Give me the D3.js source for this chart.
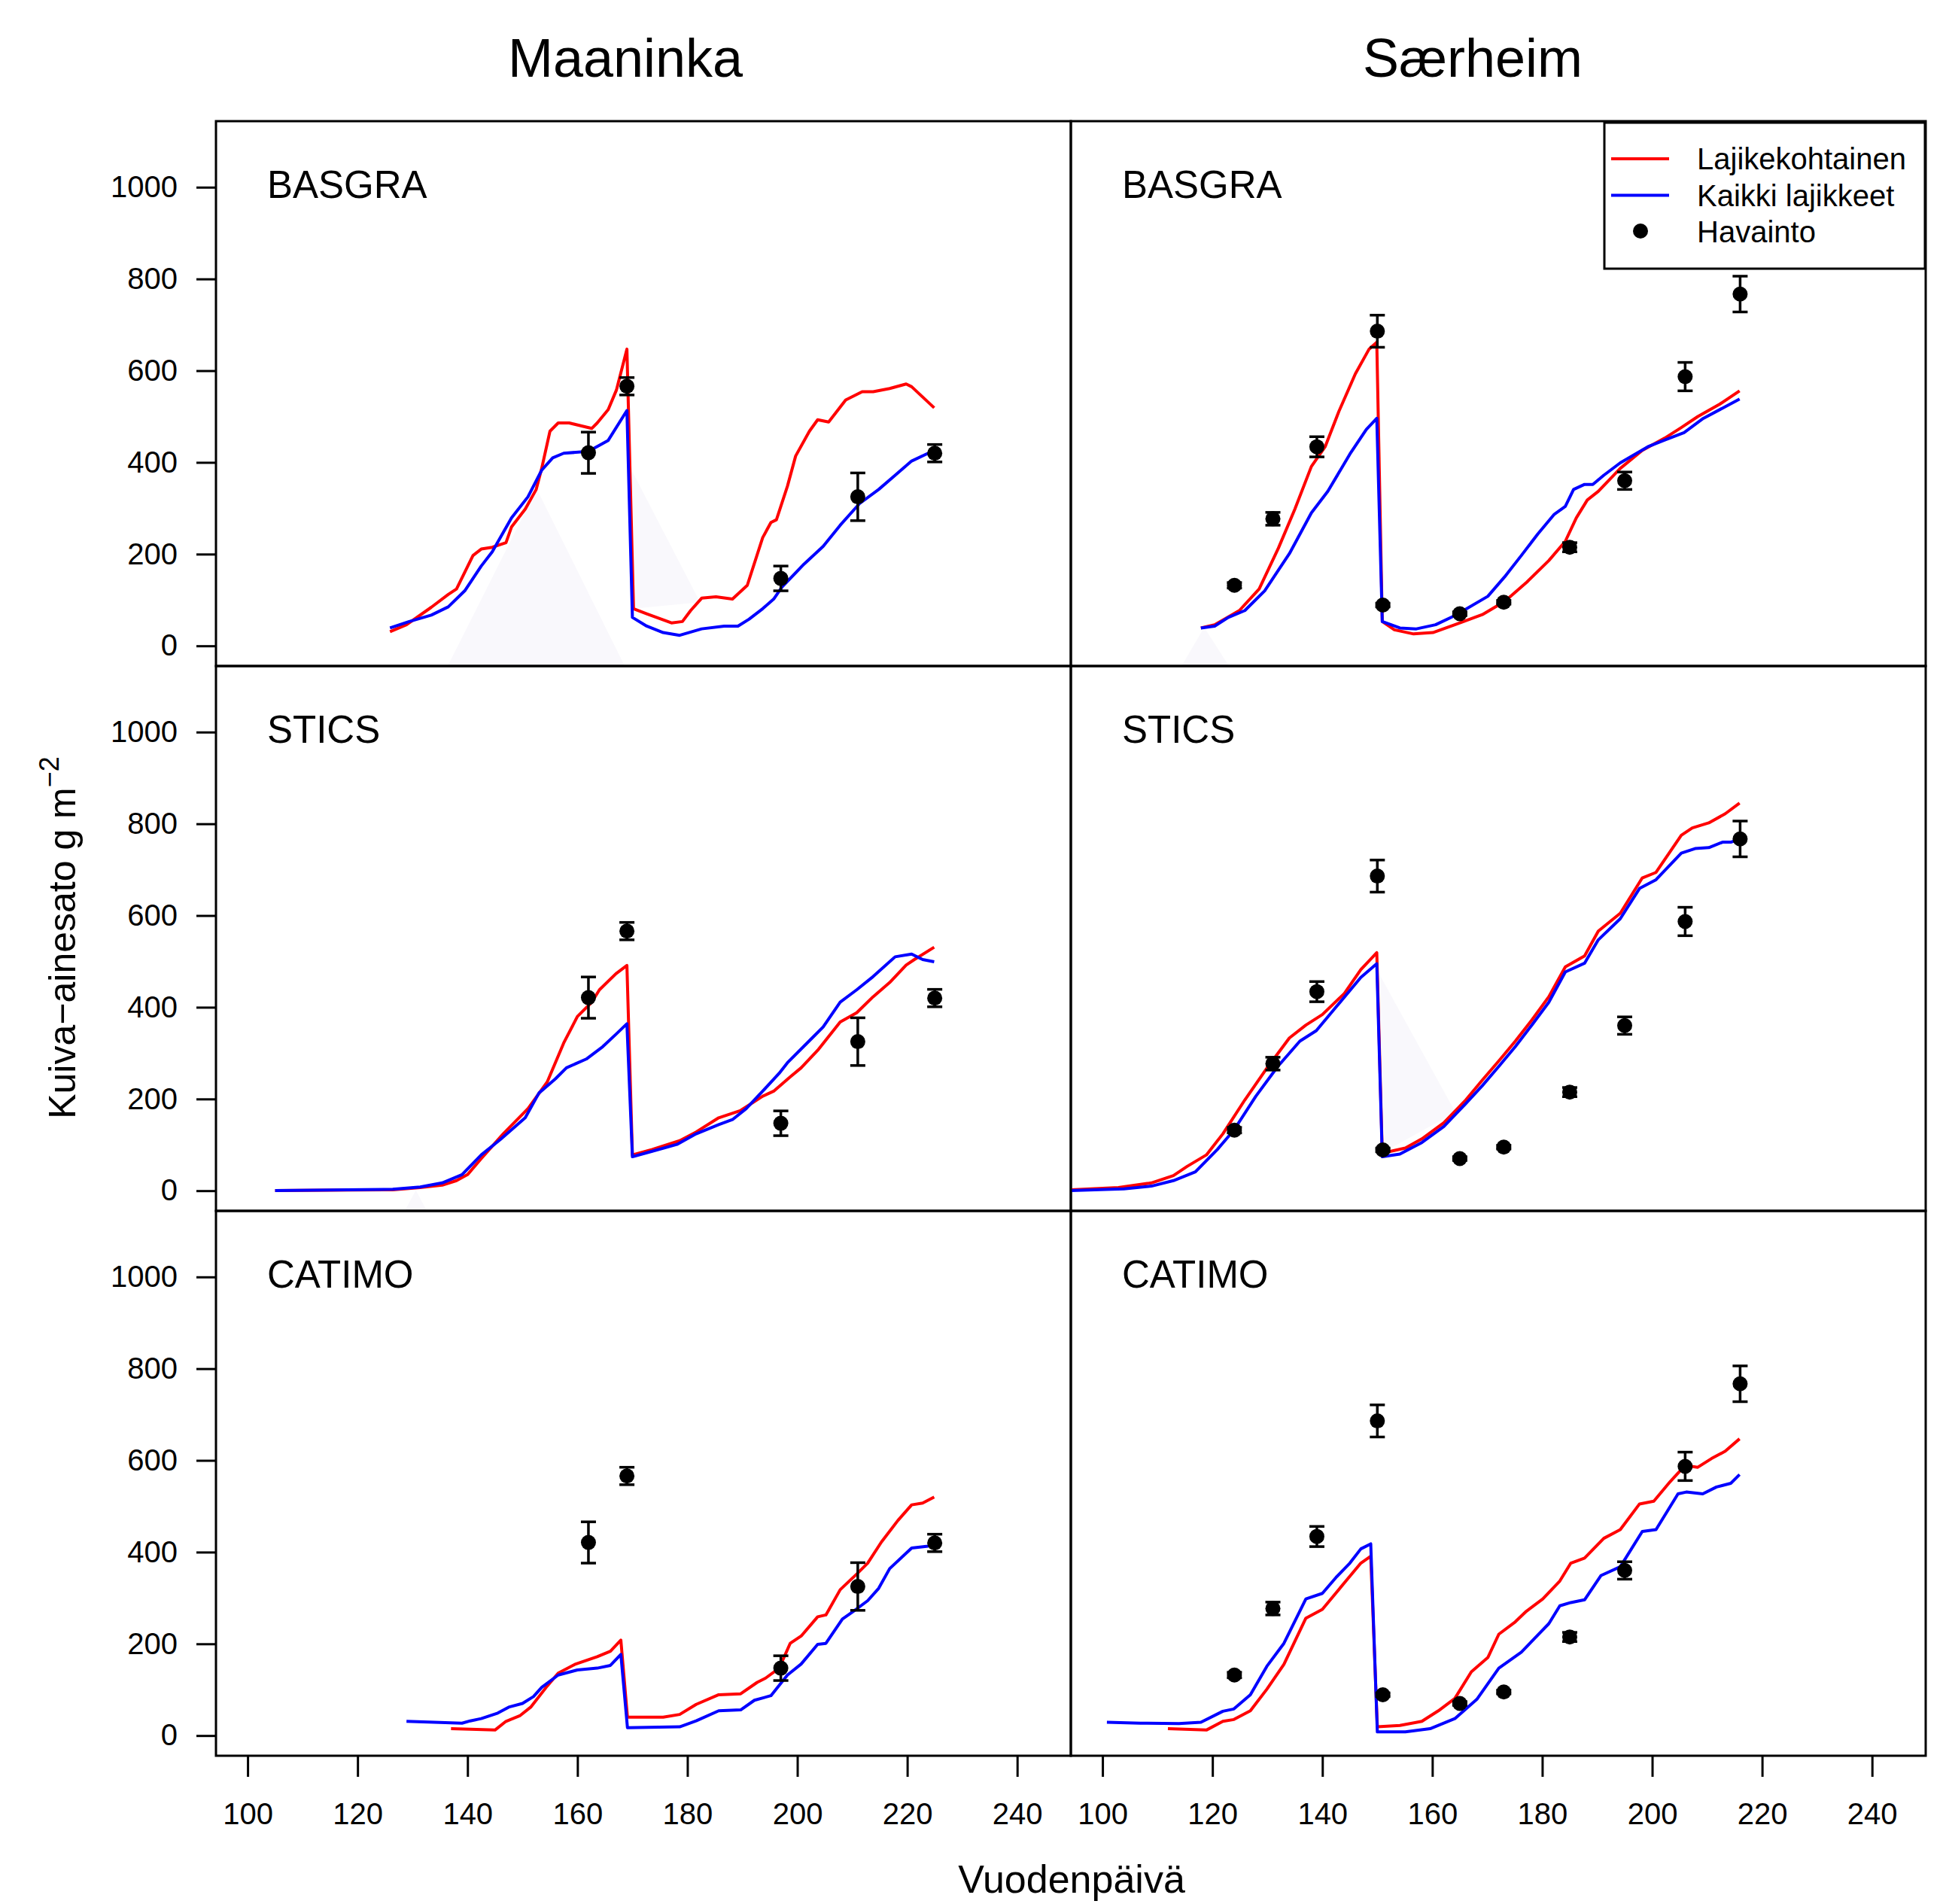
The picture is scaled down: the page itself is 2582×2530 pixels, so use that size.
<!DOCTYPE html>
<html>
<head>
<meta charset="utf-8">
<script src="https://cdn.jsdelivr.net/npm/d3@7"></script>
<style>
  body { margin: 0; background: #fff; }
  text { font-family: "Liberation Sans", Arial, Helvetica, sans-serif; fill: #000; }
</style>
</head>
<body>
<script>
// sites, models, ticks
const sites = ['Maaninka', 'Særheim'];
const models = ['BASGRA', 'STICS', 'CATIMO'];
const xTicks = [100, 120, 140, 160, 180, 200, 220, 240];
const yTicks = [0, 200, 400, 600, 800, 1000];

// observations (day, mean, error half width)
const maaObsDay = [162, 169, 197, 211, 225];
const maaObsVal = [421, 566, 147, 325, 420];
const maaObsErr = [45, 19, 27, 52, 19];
const saeObsDay = [124, 131, 139, 150, 151, 165, 173, 185, 195, 206, 216];
const saeObsVal = [132, 277, 434, 686, 89, 70, 95, 215, 360, 587, 767];
const saeObsErr = [6, 14, 22, 35, 4, 4, 4, 10, 19, 31, 39];

// simulated curves, [day, g m-2]
const maaBasgraRed = [[125.9,31],[128.9,46],[133.4,84],[136.5,112],[138,124],[141,197],[142.5,211],[144.5,215],[147,225],[148,259],[150.5,298],[152.5,341],[153.5,387],[155,468],[156.5,486],[158.5,486],[162.6,474],[163.6,486],[165.6,515],[167.1,558],[169,647],[170.2,81],[172.6,70],[177.1,50],[179.1,53],[180.6,77],[182.6,104],[185.2,107],[188.2,102],[190.9,132],[193.7,236],[195.2,269],[196.2,275],[198.2,348],[199.7,414],[202.2,468],[203.7,493],[205.7,488],[208.8,536],[211.8,554],[213.8,554],[216.8,561],[219.8,571],[220.8,565],[224.9,519]];
const maaBasgraBlue = [[125.9,39],[129.4,53],[133.4,67],[136.5,85],[139.5,120],[142.5,174],[144.5,205],[148,279],[151,325],[153.5,383],[155.5,410],[157.5,420],[162,424],[165.6,448],[169,513],[170,62],[172.6,43],[175.6,29],[178.6,23],[182.6,37],[186.7,43],[189.2,43],[191.2,58],[193.7,81],[195.7,102],[197.2,128],[201.2,178],[204.7,217],[207.8,263],[211.3,310],[214.8,341],[217.8,372],[220.8,403],[223.8,420],[224.9,421]];
const maaSticsRed = [[105,0.5],[126.4,2],[131.4,7],[135.4,12],[138,22],[140,35],[142.5,70],[146.5,124],[151,179],[154.5,237],[157.5,322],[160,380],[162.6,411],[164,438],[167,473],[169,491],[170,78],[173.6,90],[178.6,109],[181.6,128],[185.7,159],[189.7,175],[193.7,206],[195.7,217],[198.7,248],[200.7,268],[203.7,306],[207.8,368],[210.8,388],[213.8,423],[216.8,454],[219.8,492],[221.3,504],[224.9,531]];
const maaSticsBlue = [[105,0.5],[126.4,3],[131.4,8],[135.4,17],[139,35],[142.5,78],[146,112],[150.5,159],[153,213],[156,244],[158,268],[161.6,287],[164.6,314],[167,341],[169,364],[170,74],[173.6,86],[178.1,101],[181.6,124],[185.7,144],[188.2,155],[190.7,179],[193.7,217],[196.7,256],[198.2,279],[202.7,333],[204.7,357],[207.8,411],[210.8,438],[213.8,467],[217.8,510],[220.8,516],[222.8,504],[224.9,499]];
const maaCatimoRed = [[137,15],[140.5,14],[145,12],[147,31],[149.5,43],[151.5,62],[154.5,108],[156.5,136],[159.5,155],[163.6,172],[166,184],[167.9,208],[169.1,40],[175.6,40],[178.6,46],[181.6,68],[185.7,89],[189.7,91],[192.7,116],[194.2,125],[196.7,147],[198.7,201],[200.7,217],[203.7,259],[205.2,263],[207.8,318],[210.8,352],[212.8,376],[215.3,422],[218.3,469],[220.8,503],[222.8,507],[224.9,520]];
const maaCatimoBlue = [[128.9,31],[139,27],[140.5,32],[142.5,37],[145.5,49],[147.5,62],[150,70],[152,85],[153.5,105],[156.5,132],[160,143],[163.6,147],[166,153],[167.9,177],[169.1,17],[178.6,19],[181.6,32],[185.7,54],[189.7,56],[192.2,77],[195.2,87],[198.2,132],[200.7,156],[203.7,199],[205.2,201],[208.2,254],[210.2,271],[212.8,294],[214.8,321],[216.8,364],[220.8,409],[223.8,413],[224.9,418]];
const saeBasgraRed = [[117.9,39],[120.4,46],[122.9,63],[124.9,77],[128.5,124],[132,213],[135,298],[138,391],[140.5,434],[143,511],[146,593],[148.5,647],[149.9,662],[150.9,53],[153.1,35],[156.6,26],[160.1,29],[164.1,46],[169.1,68],[173.2,97],[177.2,139],[181.2,186],[184.2,228],[186.2,279],[188.2,318],[190.2,337],[194.2,387],[198.2,426],[202.3,453],[205.3,476],[208.3,500],[212.3,527],[215.9,556]];
const saeBasgraBlue = [[117.9,39],[120.4,43],[122.9,62],[125.9,77],[129.5,120],[134,201],[138,290],[141,337],[145,418],[148,472],[149.9,496],[150.9,53],[154.1,39],[157.1,37],[160.6,46],[164.1,66],[170.1,108],[173.2,151],[176.2,197],[179.2,244],[182.2,287],[184.2,304],[185.7,341],[187.7,352],[189.2,352],[191.2,372],[194.2,399],[199.2,434],[202.3,449],[205.8,465],[209.3,496],[215.9,538]];
const saeSticsRed = [[94.3,2],[102.9,7],[108.9,17],[112.9,33],[115.4,53],[118.9,78],[121.9,124],[125.9,198],[129.9,267],[134,333],[137,361],[140,384],[144,430],[147,482],[149.9,519],[150.9,82],[155.1,93],[158.1,113],[162.1,148],[166.1,198],[169.1,241],[172.1,283],[175.1,326],[178.1,372],[181.2,423],[184.2,488],[187.7,512],[190.2,566],[194.2,605],[198.2,682],[200.7,694],[205.3,775],[207.3,791],[210.3,802],[213.3,822],[215.9,845]];
const saeSticsBlue = [[94.3,0.5],[103.9,4],[108.9,10],[112.9,22],[116.9,41],[120.9,90],[123.9,132],[127.9,206],[131.9,271],[135.9,326],[138.9,349],[141.9,392],[147,465],[149.9,495],[150.9,74],[154.1,80],[158.1,105],[162.1,140],[166.1,190],[169.1,229],[172.1,271],[175.1,314],[178.1,361],[181.2,411],[184.2,477],[187.7,496],[190.2,547],[194.2,593],[197.7,659],[200.7,678],[205.3,736],[207.8,746],[210.3,748],[212.8,760],[214.3,760],[215.9,767]];
const saeCatimoRed = [[111.9,15],[118.9,12],[121.9,31],[123.9,35],[126.9,54],[129.9,101],[133,155],[137,256],[140,275],[144,333],[147,376],[148.8,391],[150,19],[154.1,22],[158.1,31],[161.1,54],[164.1,81],[167.1,139],[170.1,170],[172.1,221],[175.1,248],[177.1,271],[180.1,298],[183.2,337],[185.2,376],[187.7,387],[191.2,430],[194.2,449],[197.7,505],[200.3,511],[203.3,554],[206,589],[208.3,585],[210.8,604],[213.3,620],[215.9,647]];
const saeCatimoBlue = [[100.8,29],[106.9,27],[113.9,26],[117.9,29],[121.9,53],[123.9,58],[126.9,89],[129.9,151],[133,201],[137,298],[140,310],[142.5,345],[145,376],[147,407],[148.8,418],[150,8],[155.1,8],[159.6,15],[164.1,37],[168.1,79],[172.1,147],[176.2,182],[178.7,213],[181.2,244],[183.2,283],[185.2,290],[187.7,296],[190.7,349],[194.2,368],[198.2,445],[200.7,449],[204.7,527],[206.2,531],[209.2,527],[211.7,542],[214.3,550],[215.9,569]];

// faint shaded wedges visible in the original
const maaBasgraShade = [[[136.4,-44],[152.6,342],[168.6,-44]], [[169.9,382],[182.3,95],[170.2,81]]];
const maaSticsShade = [[[128.6,-44],[130.6,1],[132.6,-44]]];
const saeBasgraShade = [[[114.4,-44],[118.5,40],[123,-44]]];
const saeSticsShade = [[[150,480],[164.2,171],[151.4,86]]];

const panels = [
    { site: 0, model: 0, red: maaBasgraRed, blue: maaBasgraBlue, shade: maaBasgraShade },
    { site: 1, model: 0, red: saeBasgraRed, blue: saeBasgraBlue, shade: saeBasgraShade },
    { site: 0, model: 1, red: maaSticsRed, blue: maaSticsBlue, shade: maaSticsShade },
    { site: 1, model: 1, red: saeSticsRed, blue: saeSticsBlue, shade: saeSticsShade },
    { site: 0, model: 2, red: maaCatimoRed, blue: maaCatimoBlue, shade: [] },
    { site: 1, model: 2, red: saeCatimoRed, blue: saeCatimoBlue, shade: [] },
];
const obs = [
    maaObsDay.map((d, i) => ({ day: d, val: maaObsVal[i], err: maaObsErr[i] })),
    saeObsDay.map((d, i) => ({ day: d, val: saeObsVal[i], err: saeObsErr[i] })),
];

const W = 2582, H = 2530;
const left0 = 287, top0 = 161, pw = 1136, ph = 724;
const colX = [left0, left0 + pw];
const titleX = [831, 1957];

const x = d3.scaleLinear().domain([94.24, 249.76]).range([0, pw]);
const y = d3.scaleLinear().domain([-44, 1144]).range([ph, 0]);
const line = d3.line().x(d => x(d[0])).y(d => y(d[1]));

const svg = d3.select('body').append('svg').attr('width', W).attr('height', H);
svg.append('rect').attr('width', W).attr('height', H).attr('fill', '#fff');

// column titles
svg.selectAll('text.site')
    .data(sites)
    .join('text')
    .attr('class', 'site')
    .attr('x', (d, i) => titleX[i])
    .attr('y', 102)
    .attr('text-anchor', 'middle')
    .attr('font-size', 72)
    .text(d => d);

panels.forEach((p, k) => {
    const px = colX[p.site];
    const py = top0 + p.model * ph;
    const g = svg.append('g').attr('transform', `translate(${px},${py})`);

    g.append('clipPath').attr('id', 'clip' + k)
        .append('rect').attr('width', pw).attr('height', ph);
    const inner = g.append('g').attr('clip-path', `url(#clip${k})`);

    inner.selectAll('path.shade')
        .data(p.shade)
        .join('path')
        .attr('class', 'shade')
        .attr('d', d => line(d) + 'Z')
        .attr('fill', '#f9f8fc');

    inner.append('path').attr('d', line(p.red))
        .attr('fill', 'none').attr('stroke', '#ff0000').attr('stroke-width', 4).attr('stroke-linejoin', 'round');
    inner.append('path').attr('d', line(p.blue))
        .attr('fill', 'none').attr('stroke', '#0000ff').attr('stroke-width', 4).attr('stroke-linejoin', 'round');

    // observations with error bars
    const o = inner.selectAll('g.obs').data(obs[p.site]).join('g').attr('class', 'obs');
    o.append('line')
        .attr('x1', d => x(d.day)).attr('x2', d => x(d.day))
        .attr('y1', d => y(d.val - d.err)).attr('y2', d => y(d.val + d.err))
        .attr('stroke', '#000').attr('stroke-width', 3.5);
    [-1, 1].forEach(s => {
        o.append('line')
            .attr('x1', d => x(d.day) - 10).attr('x2', d => x(d.day) + 10)
            .attr('y1', d => y(d.val + s * d.err)).attr('y2', d => y(d.val + s * d.err))
            .attr('stroke', '#000').attr('stroke-width', 3.5);
    });
    o.append('circle')
        .attr('cx', d => x(d.day)).attr('cy', d => y(d.val)).attr('r', 10)
        .attr('fill', '#000');

    g.append('text')
        .attr('x', 68).attr('y', 102)
        .attr('font-size', 51)
        .text(models[p.model]);

    if (p.site === 0) {
        const ax = g.append('g')
            .call(d3.axisLeft(y).tickValues(yTicks).tickFormat(d3.format('d')).tickSize(26).tickPadding(25));
        ax.select('.domain').remove();
        ax.selectAll('line').attr('stroke-width', 3);
        ax.selectAll('text').attr('font-size', 40).attr('font-family', null);
    }
    if (p.model === 2) {
        const ax = g.append('g').attr('transform', `translate(0,${ph})`)
            .call(d3.axisBottom(x).tickValues(xTicks).tickFormat(d3.format('d')).tickSize(28).tickPadding(35));
        ax.select('.domain').remove();
        ax.selectAll('line').attr('stroke-width', 3);
        ax.selectAll('text').attr('font-size', 40).attr('font-family', null);
    }

    g.append('rect').attr('width', pw).attr('height', ph)
        .attr('fill', 'none').attr('stroke', '#000').attr('stroke-width', 3);
});

// axis titles
svg.append('text')
    .attr('x', 1424).attr('y', 2515)
    .attr('text-anchor', 'middle').attr('font-size', 52)
    .text('Vuodenpäivä');

const ylab = svg.append('text')
    .attr('transform', 'translate(100,1246) rotate(-90)')
    .attr('text-anchor', 'middle').attr('font-size', 50);
ylab.append('tspan').text('Kuiva\u2212ainesato g m');
ylab.append('tspan').attr('dy', -22).attr('font-size', 36).text('\u22122');

// legend
const lg = svg.append('g').attr('transform', 'translate(2132,163)');
lg.append('rect').attr('width', 426).attr('height', 194)
    .attr('fill', '#fff').attr('stroke', '#000').attr('stroke-width', 3);
const items = [
    { label: 'Lajikekohtainen', color: '#ff0000', kind: 'line' },
    { label: 'Kaikki lajikkeet', color: '#0000ff', kind: 'line' },
    { label: 'Havainto', color: '#000', kind: 'dot' },
];
items.forEach((it, i) => {
    const cy = 48 + i * 48.5;
    if (it.kind === 'line') {
        lg.append('line').attr('x1', 9).attr('x2', 86).attr('y1', cy).attr('y2', cy)
            .attr('stroke', it.color).attr('stroke-width', 4);
    } else {
        lg.append('circle').attr('cx', 48).attr('cy', cy - 1).attr('r', 10).attr('fill', it.color);
    }
    lg.append('text').attr('x', 123).attr('y', cy + 14).attr('font-size', 40).text(it.label);
});
</script>
</body>
</html>
